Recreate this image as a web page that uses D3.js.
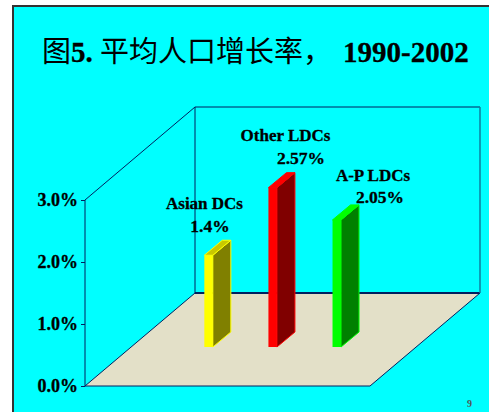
<!DOCTYPE html>
<html>
<head>
<meta charset="utf-8">
<script src="https://d3js.org/d3.v7.min.js"></script>
<style>
	html, body { margin: 0; padding: 0; background: #fff; overflow: hidden; }
	text { font-family: "Liberation Serif", serif; font-weight: bold; fill: #000; stroke: #000; stroke-width: 0.3px; }
</style>
</head>
<body>
<script>
var categories = ["Asian DCs", "Other LDCs", "A-P LDCs"]
var barValues = [1.48, 2.57, 2.05]
var valueLabels = ["1.4%", "2.57%", "2.05%"]
var tickValues = [0, 1, 2, 3]
var faceColors = ["#ffff00", "#ff0000", "#00ff00"]
var sideColors = ["#808000", "#800000", "#008000"]

var width = 489, height = 412

var svg = d3.select("body").append("svg")
	.attr("width", width)
	.attr("height", height)
	.style("display", "block")

// slide background
svg.append("rect").attr("x", 13).attr("y", 6).attr("width", 480).attr("height", 410)
	.attr("fill", "#00ffff").attr("stroke", "#333").attr("stroke-width", 2)

var cjk = "'Noto Sans CJK SC'"
function titlePart(tx, s, isCjk) {
	var t = svg.append("text").attr("x", tx).attr("y", 61.5).attr("font-size", 29).text(s)
	if (isCjk) t.style("font-family", cjk).style("font-weight", 400).style("stroke-width", "0px")
}
titlePart(42, "图", true)
titlePart(71, "5.", false)
titlePart(100, "平均人口增长率，", true)
titlePart(343, "1990-2002", false)

// box corners, front lower left is value 0
var x = d3.scaleLinear().domain([0, 1]).range([85, 370])
var y = d3.scaleLinear().domain([0, 3]).range([386, 200])
var depthX = 110, depthY = 93

var axisColor = "#00205f"

// floor
svg.append("path")
	.attr("d", d3.line()([
		[x(0), y(0)], [x(1), y(0)], [x(1) + depthX, y(0) - depthY], [x(0) + depthX, y(0) - depthY]
	]) + "Z")
	.attr("fill", "#e3e0c8")

var wall = svg.append("g").attr("fill", "none").attr("stroke", axisColor).attr("stroke-width", 1)
var wallLines = [
	[[x(0), y(3)], [x(0), y(0)]],
	[[x(0), y(0)], [x(1), y(0)]],
	[[x(1), y(0)], [x(1) + depthX, y(0) - depthY]],
	[[x(0), y(0)], [x(0) + depthX, y(0) - depthY]],
	[[x(0), y(3)], [x(0) + depthX, y(3) - depthY]],
	[[x(0) + depthX, y(3) - depthY], [x(0) + depthX, y(0) - depthY]],
	[[x(0) + depthX, y(0) - depthY], [x(1) + depthX, y(0) - depthY]],
	[[x(0) + depthX, y(3) - depthY], [x(1) + depthX, y(3) - depthY]]
]
wall.selectAll("path").data(wallLines).enter().append("path")
	.attr("d", function(d) { return d3.line()(d) })
	.attr("stroke-width", function(d, i) { return i == 6 ? 1.8 : 1 })

// right edge of the back wall is lighter
svg.append("path")
	.attr("d", d3.line()([[x(1) + depthX, y(3) - depthY], [x(1) + depthX, y(0) - depthY]]))
	.attr("stroke", "#0f7f9f").attr("stroke-width", 1.5).attr("fill", "none")

// value axis
var axis = d3.axisLeft(y).tickValues(tickValues).tickSize(4).tickPadding(3)
	.tickFormat(function(d) { return d.toFixed(1) + "%" })
var axisG = svg.append("g").attr("transform", "translate(" + x(0) + ",0)").call(axis)
axisG.select(".domain").remove()
axisG.selectAll("line").attr("stroke", axisColor)
axisG.selectAll("text")
	.style("font-family", "'Liberation Serif'")
	.attr("font-size", 18).attr("fill", "#000")

// bars stand a little way back on the floor
var barX = d3.scalePoint().domain(categories).range([158.2, 286.4])
var barW = 8.5, floorLift = 39, barDx = 18, barDy = 15

function frontX(i) { return barX(categories[i]) + floorLift * depthX / depthY }
function valueY(v) { return y(v) - floorLift }

var bars = svg.append("g").selectAll("g").data(barValues).enter().append("g")

bars.append("path") // side
	.attr("d", function(d, i) {
		var l = frontX(i) + barW
		return d3.line()([[l, valueY(d)], [l + barDx, valueY(d) - barDy], [l + barDx, valueY(0) - barDy], [l, valueY(0)]]) + "Z"
	})
	.attr("fill", function(d, i) { return sideColors[i] })
	.attr("stroke", function(d, i) { return faceColors[i] })
bars.append("path") // top
	.attr("d", function(d, i) {
		var l = frontX(i)
		return d3.line()([[l, valueY(d)], [l + barW, valueY(d)], [l + barW + barDx, valueY(d) - barDy], [l + barDx, valueY(d) - barDy]]) + "Z"
	})
	.attr("fill", function(d, i) { return i == 0 ? "#c8c800" : faceColors[i] })
	.attr("stroke", function(d, i) { return faceColors[i] })
bars.append("rect") // front
	.attr("x", function(d, i) { return frontX(i) })
	.attr("y", function(d) { return valueY(d) })
	.attr("width", barW)
	.attr("height", function(d) { return valueY(0) - valueY(d) })
	.attr("fill", function(d, i) { return faceColors[i] })

// labels
var labelPos = [[204.5, 209, 210, 232], [285.5, 141, 301, 164], [373, 181, 380, 203]]
categories.forEach(function(c, i) {
	svg.append("text").attr("x", labelPos[i][0]).attr("y", labelPos[i][1])
		.attr("text-anchor", "middle").attr("font-size", 17).text(c)
	svg.append("text").attr("x", labelPos[i][2]).attr("y", labelPos[i][3])
		.attr("text-anchor", "middle").attr("font-size", 17.5).text(valueLabels[i])
})

svg.append("text").attr("x", 469.5).attr("y", 407).attr("text-anchor", "middle")
	.attr("font-size", 10).style("fill", "#555").style("stroke-width", "0px").text("9")
</script>
</body>
</html>
